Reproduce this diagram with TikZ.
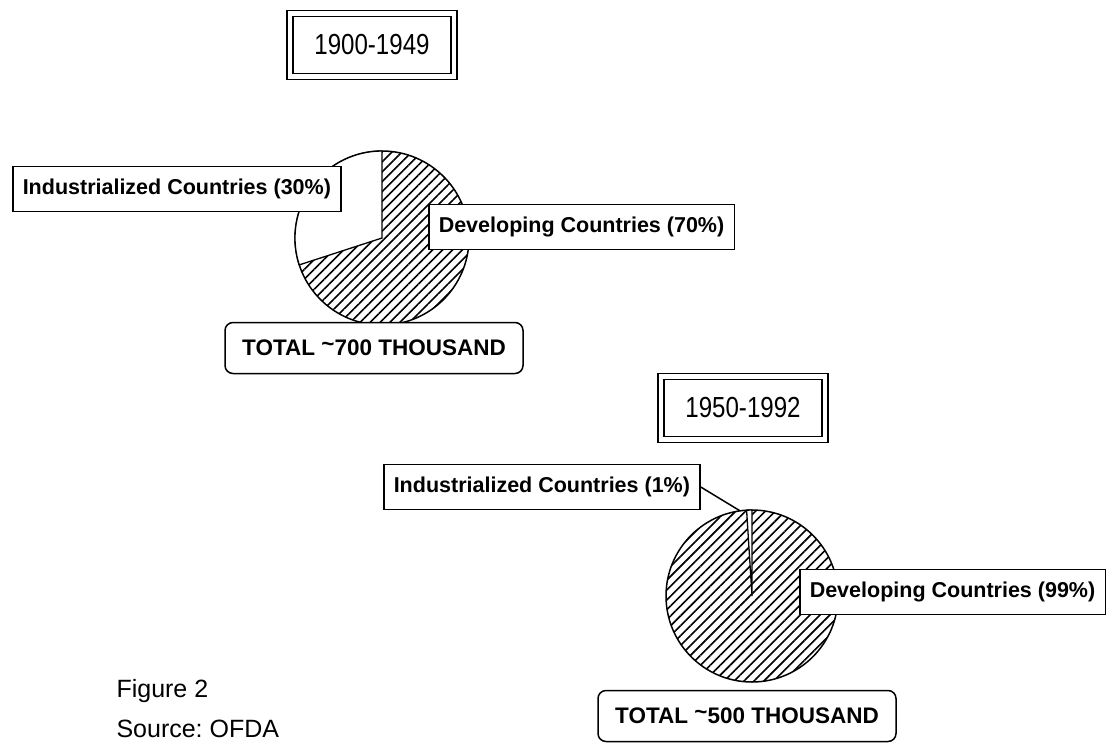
\documentclass[tikz,border=0pt]{standalone}
\usepackage{fontspec}
\setmainfont{Liberation Sans}
\newfontfamily\yearfont[FakeStretch=0.83]{Liberation Sans}
\usetikzlibrary{patterns.meta}
\frenchspacing

\begin{document}
\begin{tikzpicture}[
    x=1pt, y=-1pt,
    period/.style={rectangle, draw=black, double, double distance=4.5pt, line width=1.5pt,
        minimum width=164pt, minimum height=63pt, inner sep=0pt, text centered,
        font=\yearfont\fontsize{29}{32}\selectfont},
    share/.style={rectangle, draw=black, line width=1.5pt, fill=white, anchor=west,
        minimum height=45pt, inner xsep=10pt, text=black,
        font=\fontsize{21.5}{26}\selectfont\bfseries},
    total/.style={rectangle, draw=black, line width=1.5pt, rounded corners=8pt, fill=white,
        minimum width=298pt, minimum height=51pt, text centered,
        font=\fontsize{22.5}{26}\selectfont\bfseries},
    note/.style={anchor=base west, font=\fontsize{25}{30}\selectfont},
    hatch/.style={pattern={Lines[angle=45, distance=7pt, line width=1.6pt]}},
    slice/.style={fill=white, draw=black, line width=1.3pt}
]
\useasboundingbox (0,0) rectangle (1108,742);

% 1900-1949
\node (Per01) [period] at (372,45) {1900-1949};
\coordinate (Pie01) at (382,238);
\draw[hatch, line width=1.5pt] (Pie01) circle[radius=87pt];
\draw[slice] (Pie01) -- ++(90:87pt) arc[start angle=90, end angle=198, radius=87pt] -- cycle;
\node (Ind01) [share] at (12,189) {Industrialized Countries (30\%)};
\node (Dev01) [share] at (428,227) {Developing Countries (70\%)};
\node (Tot01) [total] at (374,348) {TOTAL \raisebox{.35ex}{\textasciitilde}700 THOUSAND};

% 1950-1992
\node (Per02) [period] at (743,408) {1950-1992};
\coordinate (Pie02) at (752,596);
\draw[hatch, line width=1.5pt] (Pie02) circle[radius=86pt];
\draw[slice] (Pie02) -- ++(90:86pt) arc[start angle=90, end angle=93.6, radius=86pt] -- cycle;
\path (Pie02) ++(98:86pt) coordinate (Tip02);
\node (Ind02) [share] at (383,487) {Industrialized Countries (1\%)};
\draw[line width=1.5pt] (Ind02.east) -- (Tip02);
\node (Dev02) [share] at (799,592) {Developing Countries (99\%)};
\node (Tot02) [total] at (747,716) {TOTAL \raisebox{.35ex}{\textasciitilde}500 THOUSAND};

% caption
\node (Fig) [note] at (113,697) {Figure 2};
\node (Src) [note] at (113,737) {Source: OFDA};
\end{tikzpicture}
\end{document}
